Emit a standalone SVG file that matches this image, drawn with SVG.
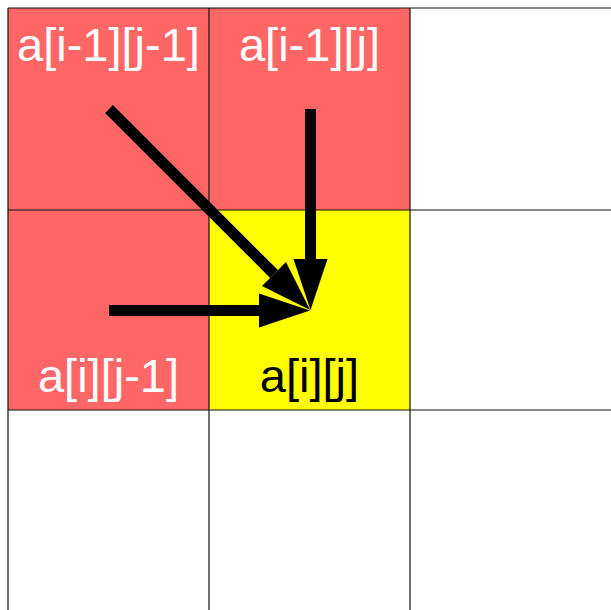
<svg xmlns="http://www.w3.org/2000/svg" width="611" height="610" viewBox="0 0 611 610">
<defs>
<style>
.red{fill:#ff6666}
.yel{fill:#ffff00}
.grid{stroke:#111;stroke-width:1.2;fill:none}
.lbl{font-family:"Liberation Sans",Arial,sans-serif;font-size:47px;text-anchor:middle}
.w{fill:#ffffff}
.k{fill:#000000}
.arr{stroke:#000;stroke-width:11;fill:none;marker-end:url(#head)}
</style>
<marker id="head" markerUnits="userSpaceOnUse" markerWidth="52" markerHeight="36" refX="0" refY="17" orient="auto" overflow="visible">
<path d="M0,0 L51,17 L0,34 Z" fill="#000"/>
</marker>
</defs>
<rect width="611" height="610" fill="#ffffff"/>
<g id="cell-i1-j1"><rect class="red" x="8" y="8" width="201" height="202"/><text class="lbl w" x="108.5" y="61">a[i-1][j-1]</text></g>
<g id="cell-i1-j"><rect class="red" x="209" y="8" width="201" height="202"/><text class="lbl w" x="309.5" y="61">a[i-1][j]</text></g>
<g id="cell-i-j1"><rect class="red" x="8" y="210" width="201" height="200"/><text class="lbl w" x="108.5" y="392">a[i][j-1]</text></g>
<g id="cell-i-j"><rect class="yel" x="209" y="210" width="201" height="200"/><text class="lbl k" x="309.5" y="392">a[i][j]</text></g>
<g id="grid" class="grid">
<line x1="8" y1="8" x2="611" y2="8"/>
<line x1="8" y1="210" x2="611" y2="210"/>
<line x1="8" y1="410" x2="611" y2="410"/>
<line x1="8" y1="8" x2="8" y2="610"/>
<line x1="209" y1="8" x2="209" y2="610"/>
<line x1="410" y1="8" x2="410" y2="610"/>
</g>
<g id="connectors">
<line class="arr" x1="109" y1="109" x2="274" y2="274"/>
<line class="arr" x1="310.5" y1="109" x2="310.5" y2="259"/>
<line class="arr" x1="109" y1="310.5" x2="259" y2="310.5"/>
</g>
</svg>
